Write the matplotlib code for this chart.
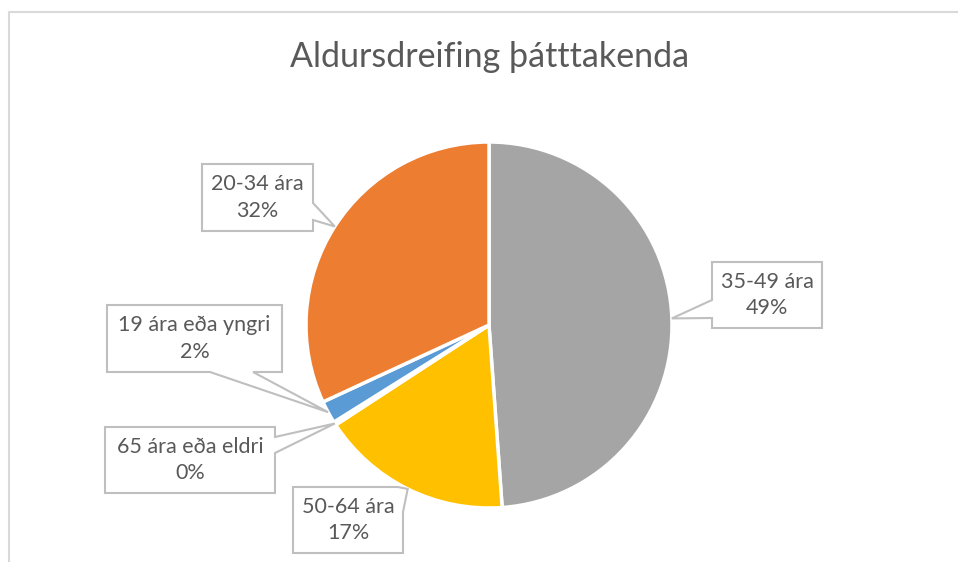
import matplotlib
matplotlib.use("Agg")
import matplotlib.pyplot as plt
from matplotlib.patches import Polygon
import numpy as np

# ---- data ----
categories = ["35-49 ára", "50-64 ára", "65 ára eða eldri", "19 ára eða yngri", "20-34 ára"]
values = [49, 17, 0.3, 2, 32]
colors = ["#A5A5A5", "#FFC000", "#264478", "#5B9BD5", "#ED7D31"]
title = "Aldursdreifing þátttakenda"

W, H = 958, 562
FONT = "Lato"
TXT = "#595959"
EDGE = "#BFBFBF"

fig = plt.figure(figsize=(W / 100, H / 100), dpi=100)
ax = fig.add_axes([0, 0, 1, 1])
ax.set_xlim(0, W)
ax.set_ylim(0, H)
ax.set_aspect("equal")
ax.axis("off")

# chart frame (top & left visible)
ax.plot([9.5, 9.5, W + 5], [-5, H - 11.5, H - 11.5], color="#D9D9D9", lw=1.5, solid_capstyle="butt")

cx, cy, R = 489, H - 325, 183
wedges, _ = ax.pie(values, colors=colors, startangle=90, counterclock=False,
                   center=(cx, cy), radius=R, frame=True,
                   wedgeprops=dict(edgecolor="white", linewidth=2.5))
ax.set_xlim(0, W)
ax.set_ylim(0, H)
ax.axis("off")

ax.text(490, H - 57, title, ha="center", va="center", fontsize=24.5,
        color=TXT, family=FONT)

total = sum(values)

# callout layout (image pixel coordinates): box and tail base
layout = {
    "35-49 ára": dict(box=(712, 262, 822, 328), edge="left", base=(300, 318)),
    "50-64 ára": dict(box=(293, 487, 403, 553), edge="topright", base=(398, 512)),
    "65 ára eða eldri": dict(box=(105, 427, 275, 493), edge="right", base=(437, 453)),
    "19 ára eða yngri": dict(box=(107, 305, 282, 372), edge="bottom", base=(210, 253)),
    "20-34 ára": dict(box=(202, 164, 313, 231), edge="right", base=(203, 220)),
}

for w, cat, v in zip(wedges, categories, values):
    mid = np.deg2rad((w.theta1 + w.theta2) / 2)
    tip = (cx + R * np.cos(mid), cy + R * np.sin(mid))
    L = layout[cat]
    x0, y0, x1, y1 = L["box"]
    Y = lambda y: H - y
    b1, b2 = L["base"]
    TL, TR, BR, BL = (x0, Y(y0)), (x1, Y(y0)), (x1, Y(y1)), (x0, Y(y1))
    e = L["edge"]
    if e == "right":
        verts = [TL, TR, (x1, Y(b1)), tip, (x1, Y(b2)), BR, BL]
    elif e == "left":
        verts = [TL, TR, BR, BL, (x0, Y(b2)), tip, (x0, Y(b1))]
    elif e == "bottom":
        verts = [TL, TR, BR, (b2, Y(y1)), tip, (b1, Y(y1)), BL]
    else:  # topright corner
        verts = [TL, (b1, Y(y0)), tip, (x1, Y(b2)), BR, BL]
    ax.add_patch(Polygon(verts, closed=True, facecolor="white", edgecolor=EDGE,
                         lw=1.5, zorder=5, joinstyle="miter"))
    pct = round(100 * v / total)
    ax.text((x0 + x1) / 2, Y((y0 + y1) / 2), f"{cat}\n{pct}%", ha="center", va="center",
            fontsize=15.5, color=TXT, family=FONT, linespacing=1.4, zorder=6)

fig.savefig("out.png", dpi=100, facecolor="white")
